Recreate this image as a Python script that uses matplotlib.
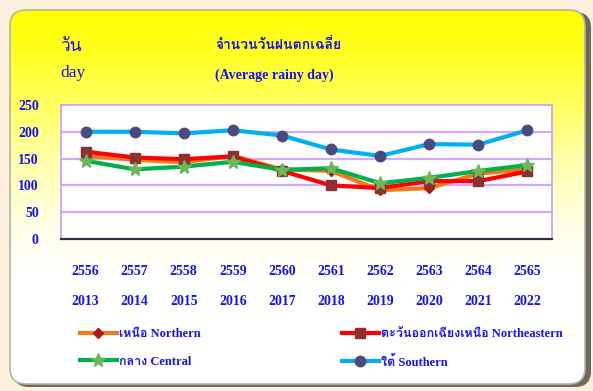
import numpy as np
import matplotlib
matplotlib.use("Agg")
import matplotlib.pyplot as plt
from matplotlib import font_manager
from matplotlib.ft2font import FT2Font
from matplotlib.patches import FancyBboxPatch
from matplotlib.lines import Line2D

# ---------------- data ----------------
years_be = ['2556', '2557', '2558', '2559', '2560', '2561', '2562', '2563', '2564', '2565']
years_ad = ['2013', '2014', '2015', '2016', '2017', '2018', '2019', '2020', '2021', '2022']
northern = [155, 148, 143, 155, 130, 127, 91, 95, 122, 130]
northeastern = [163, 152, 149, 154, 127, 100, 95, 108, 108, 126]
central = [146, 130, 135, 144, 129, 132, 104, 114, 127, 138]
southern = [200, 200, 197, 203, 193, 167, 155, 177, 176, 203]


def find_thai_family():
    # first installed family that has Thai glyphs
    for f in font_manager.fontManager.ttflist:
        try:
            if 0x0E27 in FT2Font(f.fname).get_charmap():
                return f.name
        except Exception:
            pass
    return None


thai = find_thai_family()
fam = ['Liberation Serif'] + ([thai] if thai else []) + ['DejaVu Sans']
plt.rcParams['font.family'] = fam

W, H = 593, 391
BLUE = '#1414F0'
fig = plt.figure(figsize=(W / 100, H / 100), dpi=100, facecolor='#FDF1DD')

# ---------------- yellow panel behind everything ----------------
bg = fig.add_axes([0, 0, 1, 1], zorder=-10)
bg.set_xlim(0, W)
bg.set_ylim(H, 0)
bg.axis('off')

shadow = FancyBboxPatch((13, 12), 578, 375, boxstyle='round,pad=0,rounding_size=16',
                        fc='#6A6A60', ec='none')
bg.add_patch(shadow)
panel = FancyBboxPatch((10, 10), 575, 374, boxstyle='round,pad=0,rounding_size=16',
                       fc='none', ec='#B4B4A4', lw=1.2)
bg.add_patch(panel)
rows = np.arange(H)
blue_ch = np.interp(rows, [10, 40, 100, 160, 230, 280], [0, 20, 90, 170, 235, 255])
grad = np.ones((H, 2, 3))
grad[:, :, 2] = (blue_ch / 255.0)[:, None]
img = bg.imshow(grad, extent=[0, W, H, 0], aspect='auto', zorder=1)
img.set_clip_path(panel)
panel.set_zorder(2)

# ---------------- main axes ----------------
ax = fig.add_axes([61 / W, 1 - 239 / H, 491 / W, 134 / H])
ax.set_facecolor('white')
x = np.arange(len(years_be))

series = [
    (northern, '#F07A14', 'D', '#B01818', 5, 'เหนือ Northern'),
    (northeastern, '#FF0000', 's', '#8E3030', 7, 'ตะวันออกเฉียงเหนือ Northeastern'),
    (central, '#00B04C', '*', '#6CB858', 10, 'กลาง Central'),
    (southern, '#00B0F0', 'o', '#4A4A7E', 7.5, 'ใต้ Southern'),
]
handles = []
for vals, col, mk, mcol, ms, lab in series:
    ax.plot(x, vals, color=col, lw=3, marker=mk, ms=ms, mfc=mcol, mec=mcol,
            solid_joinstyle='round')
    handles.append(Line2D([], [], color=col, lw=3, marker=mk, ms=ms,
                          mfc=mcol, mec=mcol, label=lab))

ax.set_xlim(-0.5, len(x) - 0.5)
ax.set_ylim(0, 250)
ax.set_yticks(range(0, 251, 50))
ax.set_xticks([])
for v in range(50, 250, 50):
    ax.axhline(v, color='#D4A8FF', lw=1.6, zorder=0)
for s in ['top', 'right', 'left']:
    ax.spines[s].set_color('#C89CFF')
    ax.spines[s].set_linewidth(1.2)
ax.spines['bottom'].set_color('#2E2E48')
ax.spines['bottom'].set_linewidth(1.6)
ax.tick_params(axis='y', length=0, pad=16, labelsize=10, labelcolor=BLUE)
for t in ax.get_yticklabels():
    t.set_fontweight('bold')

# two rows of year labels under the axis
trans = ax.get_xaxis_transform()
for i in x:
    ax.text(i, -0.245, years_be[i], transform=trans, ha='center', va='center',
            fontsize=10, fontweight='bold', color=BLUE)
    ax.text(i, -0.465, years_ad[i], transform=trans, ha='center', va='center',
            fontsize=10, fontweight='bold', color=BLUE)

# ---------------- titles ----------------
fig.text(60 / W, 1 - 47 / H, 'วัน', fontsize=12.5, color=BLUE, va='center')
fig.text(60 / W, 1 - 73 / H, 'day', fontsize=12.5, color=BLUE, va='center')
fig.text(215 / W, 1 - 45 / H, 'จำนวนวันฝนตกเฉลี่ย', fontsize=10, fontweight='bold',
         color=BLUE, va='center')
fig.text(215 / W, 1 - 75 / H, '(Average rainy day)', fontsize=10, fontweight='bold',
         color=BLUE, va='center')

# ---------------- legend ----------------
for hs, x0 in [((handles[0], handles[2]), 80), ((handles[1], handles[3]), 342)]:
    leg = fig.legend(handles=list(hs), loc='upper left',
                     bbox_to_anchor=(x0 / W, 1 - 328 / H), frameon=False,
                     handlelength=2.95, handletextpad=0.15, labelspacing=1.25,
                     borderpad=0, borderaxespad=0, prop={'weight': 'bold', 'size': 9})
    for t in leg.get_texts():
        t.set_color(BLUE)

fig.savefig('out.png', dpi=100, facecolor=fig.get_facecolor())
